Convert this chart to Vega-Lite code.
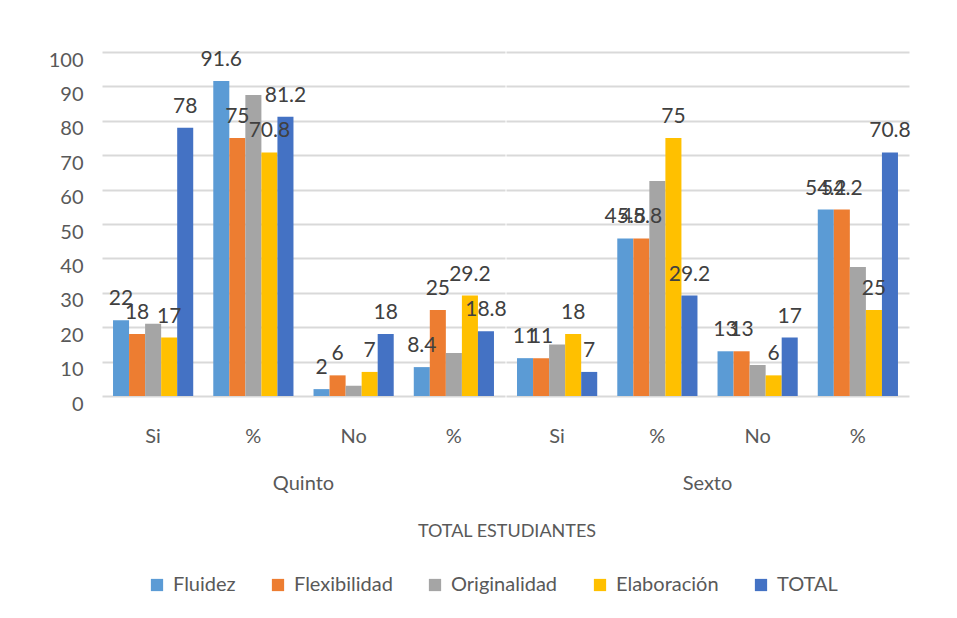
{
  "$schema": "https://vega.github.io/schema/vega-lite/v6.json",
  "padding": {"left": 48, "top": 48, "right": 30, "bottom": 5},
  "data": {
    "values": [
      {"grupo": "Quinto", "cat": "Si", "serie": "Fluidez", "valor": 22},
      {"grupo": "Quinto", "cat": "Si", "serie": "Flexibilidad", "valor": 18},
      {"grupo": "Quinto", "cat": "Si", "serie": "Originalidad", "valor": 21},
      {"grupo": "Quinto", "cat": "Si", "serie": "Elaboración", "valor": 17},
      {"grupo": "Quinto", "cat": "Si", "serie": "TOTAL", "valor": 78},
      {"grupo": "Quinto", "cat": "%a", "serie": "Fluidez", "valor": 91.6},
      {"grupo": "Quinto", "cat": "%a", "serie": "Flexibilidad", "valor": 75},
      {"grupo": "Quinto", "cat": "%a", "serie": "Originalidad", "valor": 87.5},
      {"grupo": "Quinto", "cat": "%a", "serie": "Elaboración", "valor": 70.8},
      {"grupo": "Quinto", "cat": "%a", "serie": "TOTAL", "valor": 81.2},
      {"grupo": "Quinto", "cat": "No", "serie": "Fluidez", "valor": 2},
      {"grupo": "Quinto", "cat": "No", "serie": "Flexibilidad", "valor": 6},
      {"grupo": "Quinto", "cat": "No", "serie": "Originalidad", "valor": 3},
      {"grupo": "Quinto", "cat": "No", "serie": "Elaboración", "valor": 7},
      {"grupo": "Quinto", "cat": "No", "serie": "TOTAL", "valor": 18},
      {"grupo": "Quinto", "cat": "%b", "serie": "Fluidez", "valor": 8.4},
      {"grupo": "Quinto", "cat": "%b", "serie": "Flexibilidad", "valor": 25},
      {"grupo": "Quinto", "cat": "%b", "serie": "Originalidad", "valor": 12.5},
      {"grupo": "Quinto", "cat": "%b", "serie": "Elaboración", "valor": 29.2},
      {"grupo": "Quinto", "cat": "%b", "serie": "TOTAL", "valor": 18.8},
      {"grupo": "Sexto", "cat": "Si", "serie": "Fluidez", "valor": 11},
      {"grupo": "Sexto", "cat": "Si", "serie": "Flexibilidad", "valor": 11},
      {"grupo": "Sexto", "cat": "Si", "serie": "Originalidad", "valor": 15},
      {"grupo": "Sexto", "cat": "Si", "serie": "Elaboración", "valor": 18},
      {"grupo": "Sexto", "cat": "Si", "serie": "TOTAL", "valor": 7},
      {"grupo": "Sexto", "cat": "%a", "serie": "Fluidez", "valor": 45.8},
      {"grupo": "Sexto", "cat": "%a", "serie": "Flexibilidad", "valor": 45.8},
      {"grupo": "Sexto", "cat": "%a", "serie": "Originalidad", "valor": 62.5},
      {"grupo": "Sexto", "cat": "%a", "serie": "Elaboración", "valor": 75},
      {"grupo": "Sexto", "cat": "%a", "serie": "TOTAL", "valor": 29.2},
      {"grupo": "Sexto", "cat": "No", "serie": "Fluidez", "valor": 13},
      {"grupo": "Sexto", "cat": "No", "serie": "Flexibilidad", "valor": 13},
      {"grupo": "Sexto", "cat": "No", "serie": "Originalidad", "valor": 9},
      {"grupo": "Sexto", "cat": "No", "serie": "Elaboración", "valor": 6},
      {"grupo": "Sexto", "cat": "No", "serie": "TOTAL", "valor": 17},
      {"grupo": "Sexto", "cat": "%b", "serie": "Fluidez", "valor": 54.2},
      {"grupo": "Sexto", "cat": "%b", "serie": "Flexibilidad", "valor": 54.2},
      {"grupo": "Sexto", "cat": "%b", "serie": "Originalidad", "valor": 37.5},
      {"grupo": "Sexto", "cat": "%b", "serie": "Elaboración", "valor": 25},
      {"grupo": "Sexto", "cat": "%b", "serie": "TOTAL", "valor": 70.8}
    ]
  },
  "facet": {
    "column": {
      "field": "grupo",
      "type": "nominal",
      "sort": ["Quinto", "Sexto"],
      "title": "TOTAL ESTUDIANTES",
      "header": {
        "labelOrient": "bottom",
        "titleOrient": "bottom",
        "labelFontSize": 20,
        "labelColor": "#595959",
        "labelPadding": 28,
        "titleFontSize": 18,
        "titleFontWeight": "normal",
        "titleColor": "#595959",
        "titlePadding": 19
      }
    }
  },
  "spacing": 0,
  "spec": {
    "width": 401,
    "height": 344,
    "encoding": {
      "x": {
        "field": "cat",
        "type": "nominal",
        "sort": ["Si", "%a", "No", "%b"],
        "scale": {"paddingInner": 0.2, "paddingOuter": 0.1},
        "axis": {
          "title": null,
          "labelExpr": "indexof(datum.value, '%') >= 0 ? '%' : datum.value",
          "labelAngle": 0,
          "labelFontSize": 20,
          "labelColor": "#595959",
          "labelPadding": 30,
          "ticks": false,
          "domain": false
        }
      },
      "xOffset": {
        "field": "serie",
        "type": "nominal",
        "sort": ["Fluidez", "Flexibilidad", "Originalidad", "Elaboración", "TOTAL"]
      },
      "y": {
        "field": "valor",
        "type": "quantitative",
        "scale": {"domain": [0, 100], "nice": false},
        "axis": {
          "title": null,
          "values": [0, 10, 20, 30, 40, 50, 60, 70, 80, 90, 100],
          "labelFontSize": 20,
          "labelColor": "#595959",
          "labelPadding": 20,
          "labelOffset": 8,
          "ticks": false,
          "domain": false,
          "grid": true,
          "gridColor": "#d9d9d9",
          "gridWidth": 2,
          "gridCap": "square"
        }
      }
    },
    "layer": [
      {
        "mark": {"type": "bar"},
        "encoding": {
          "color": {
            "field": "serie",
            "type": "nominal",
            "sort": ["Fluidez", "Flexibilidad", "Originalidad", "Elaboración", "TOTAL"],
            "scale": {
              "domain": ["Fluidez", "Flexibilidad", "Originalidad", "Elaboración", "TOTAL"],
              "range": ["#5B9BD5", "#ED7D31", "#A5A5A5", "#FFC000", "#4472C4"]
            },
            "legend": {
              "title": null,
              "orient": "none",
              "legendX": 44,
              "legendY": 523,
              "direction": "horizontal",
              "symbolType": "square",
              "symbolSize": 150,
              "symbolStrokeWidth": 0,
              "labelFontSize": 20,
              "labelColor": "#595959",
              "labelOffset": 6,
              "columnPadding": 32
            }
          }
        }
      },
      {
        "transform": [{"filter": "datum.serie !== 'Originalidad'"}],
        "mark": {"type": "text", "baseline": "bottom", "dy": -11, "fontSize": 21, "color": "#404040"},
        "encoding": {
          "text": {"field": "valor", "type": "quantitative"}
        }
      }
    ]
  },
  "config": {
    "font": "Lato",
    "view": {"stroke": null},
    "background": "white"
  }
}
